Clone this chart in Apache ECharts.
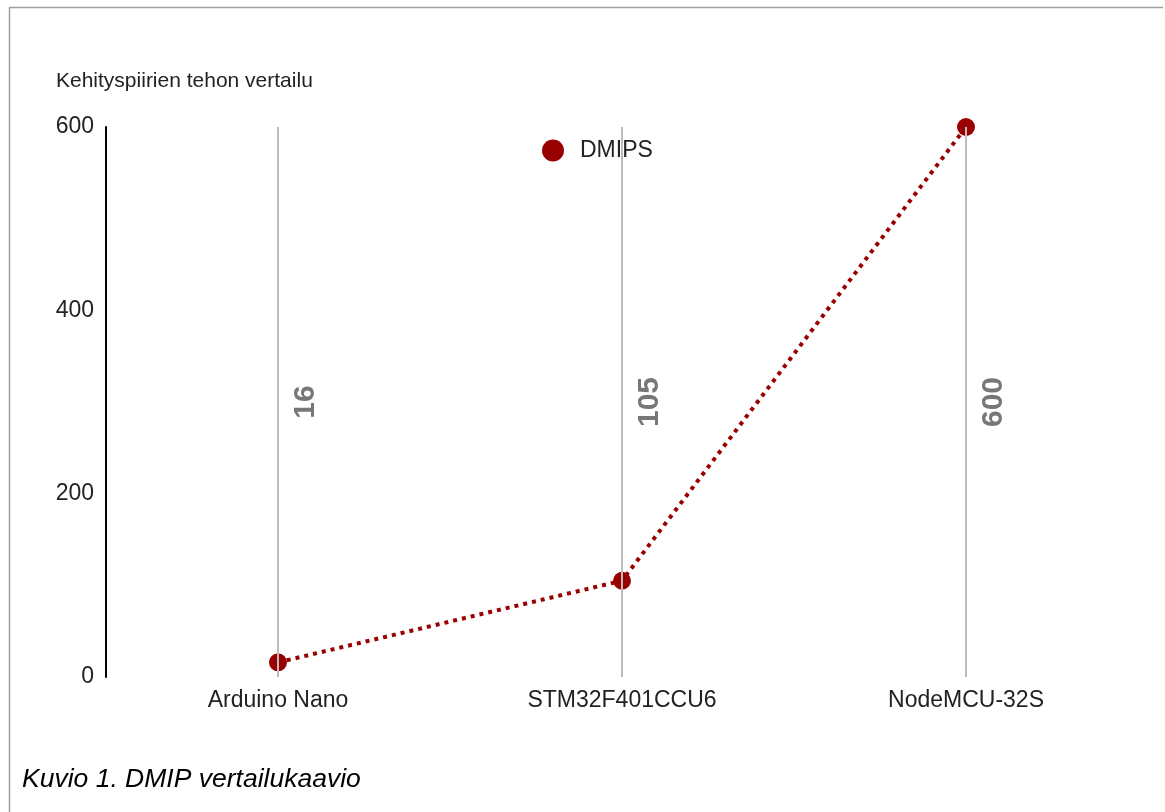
<!DOCTYPE html>
<html>
<head>
<meta charset="utf-8">
<script src="https://cdn.jsdelivr.net/npm/echarts@6/dist/echarts.min.js"></script>
<style>
html,body{margin:0;padding:0;background:#fff;}
#chart{width:1165px;height:812px;}
</style>
</head>
<body>
<div id="chart"></div>
<script>
const titleText = 'Kehityspiirien tehon vertailu';
const captionText = 'Kuvio 1. DMIP vertailukaavio';
const seriesName = 'DMIPS';
const categories = ['Arduino Nano', 'STM32F401CCU6', 'NodeMCU-32S'];
const dmipsValues = [16, 105, 600];
const yTicks = [0, 200, 400, 600];

const chart = echarts.init(document.getElementById('chart'));
const font = 'Arial, "Liberation Sans", sans-serif';
const red = '#990000';

chart.setOption({
  animation: false,
  backgroundColor: '#fff',
  title: [
    { text: titleText, left: 51, top: 66, textStyle: { fontFamily: font, fontSize: 21, fontWeight: 'normal', color: '#222' } },
    { text: captionText, left: 17, top: 761, textStyle: { fontFamily: font, fontSize: 26.5, fontWeight: 'normal', fontStyle: 'italic', color: '#000' } }
  ],
  legend: {
    data: [{ name: seriesName, icon: 'circle' }],
    left: 537, top: 134,
    itemWidth: 22, itemHeight: 22, itemGap: 8,
    textStyle: { fontFamily: font, fontSize: 23, color: '#222', padding: [0, 0, 0, 11] }
  },
  graphic: [
    { type: 'line', shape: { x1: 9, y1: 7.5, x2: 1163, y2: 7.5 }, style: { stroke: '#a0a0a0', lineWidth: 1.5 }, silent: true },
    { type: 'line', shape: { x1: 9.5, y1: 7, x2: 9.5, y2: 812 }, style: { stroke: '#a0a0a0', lineWidth: 1.5 }, silent: true }
  ],
  grid: { left: 106, right: 27, top: 127, bottom: 135 },
  xAxis: {
    type: 'category',
    data: categories,
    boundaryGap: true,
    axisLine: { show: false },
    axisTick: { show: false },
    splitLine: { show: false },
    axisLabel: { fontFamily: font, fontSize: 23, color: '#222', margin: 12 }
  },
  yAxis: {
    type: 'value',
    min: yTicks[0], max: yTicks[yTicks.length - 1], interval: 200,
    axisLine: { show: true, lineStyle: { color: '#000', width: 2 } },
    axisTick: { show: false },
    splitLine: { show: false },
    axisLabel: { fontFamily: font, fontSize: 23, color: '#222', margin: 12, padding: [4, 0, 0, 0] }
  },
  series: [{
    name: seriesName,
    type: 'line',
    data: dmipsValues,
    symbol: 'circle',
    symbolSize: 18,
    clip: true,
    itemStyle: { color: red },
    lineStyle: { color: red, width: 4, type: [4, 5] },
    markLine: {
      silent: true,
      symbol: ['none', 'none'],
      lineStyle: { color: '#bdbdbd', width: 2, type: 'solid' },
      label: {
        show: true,
        position: 'insideMiddleBottom',
        distance: 13,
        fontFamily: font, fontSize: 30, fontWeight: 'bold', color: '#777'
      },
      data: categories.map((c, i) => ({ xAxis: c, label: { formatter: String(dmipsValues[i]) } }))
    }
  }]
});
</script>
</body>
</html>
